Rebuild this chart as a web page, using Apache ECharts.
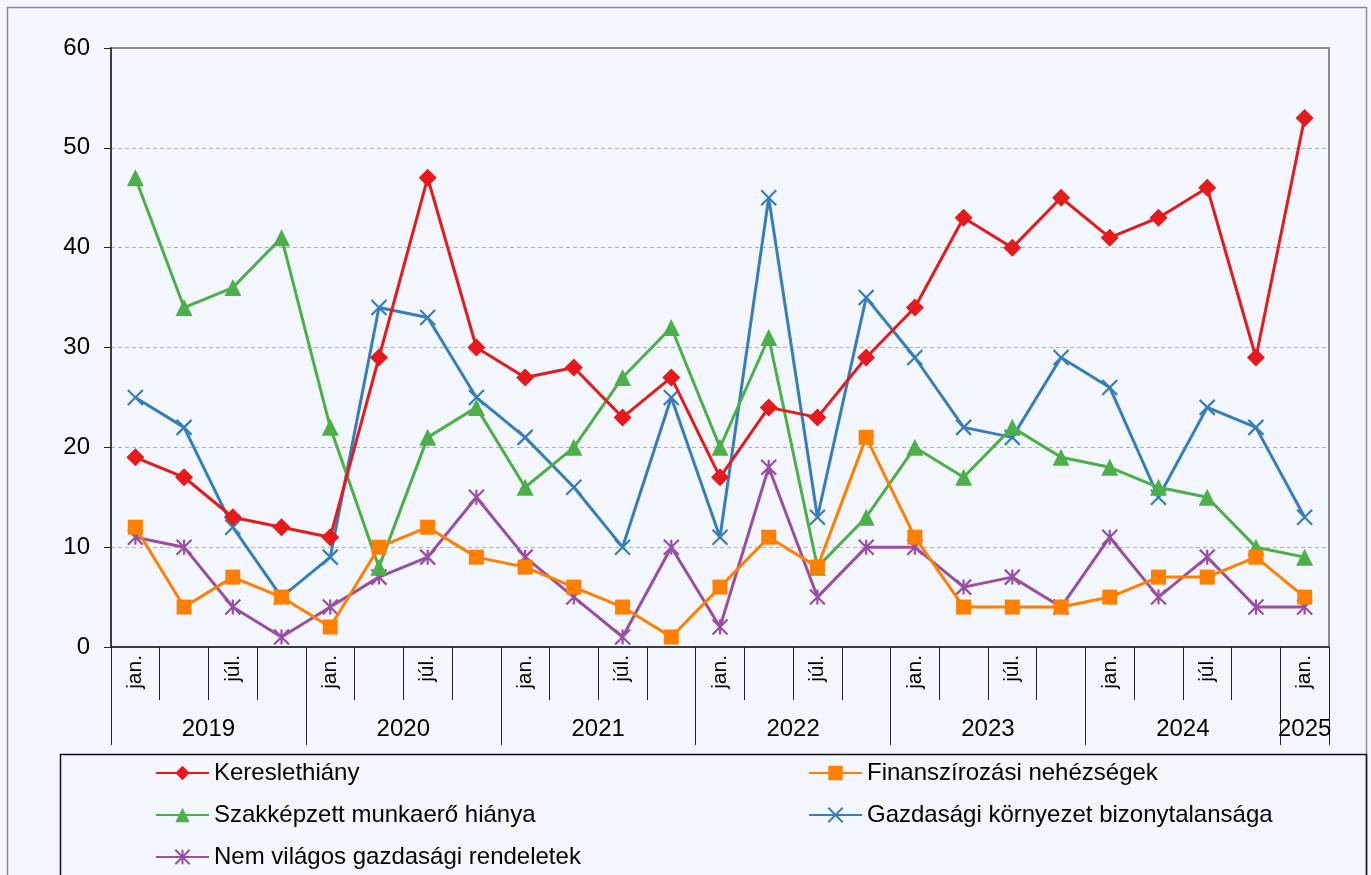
<!DOCTYPE html>
<html>
<head>
<meta charset="utf-8">
<script src="https://cdn.jsdelivr.net/npm/echarts@6/dist/echarts.min.js"></script>
<style>
html,body{margin:0;padding:0;background:#F3F6FD;}
#c{width:1371px;height:875px;}
</style>
</head>
<body>
<div id="c"></div>
<script>
// ---- data ----
const years = ['2019','2020','2021','2022','2023','2024','2025'];
const quartersPerYear = [4,4,4,4,4,4,1];
const quarterLabels = ['jan.','','júl.',''];
const seriesNames = ['Kereslethiány','Finanszírozási nehézségek','Szakképzett munkaerő hiánya','Gazdasági környezet bizonytalansága','Nem világos gazdasági rendeletek'];
const keresletHiany = [19,17,13,12,11,29,47,30,27,28,23,27,17,24,23,29,34,43,40,45,41,43,46,29,53];
const finanszirozas = [12,4,7,5,2,10,12,9,8,6,4,1,6,11,8,21,11,4,4,4,5,7,7,9,5];
const szakkepzett = [47,34,36,41,22,8,21,24,16,20,27,32,20,31,8,13,20,17,22,19,18,16,15,10,9];
const bizonytalansag = [25,22,12,5,9,34,33,25,21,16,10,25,11,45,13,35,29,22,21,29,26,15,24,22,13];
const rendeletek = [11,10,4,1,4,7,9,15,9,5,1,10,2,18,5,10,10,6,7,4,11,5,9,4,4];

// month categories
const monthCats = [];
quartersPerYear.forEach(n => { for (let q = 0; q < n; q++) monthCats.push(quarterLabels[q]); });
const N = monthCats.length;
// year axis on half-category positions (boundaryGap false, 2N+1 points)
const yearCats = new Array(2 * N + 1).fill('');
const yearBoundaries = [0];
let pos = 0;
years.forEach((y, i) => {
  const n = quartersPerYear[i];
  yearCats[2 * pos + n] = y;
  pos += n;
  yearBoundaries.push(2 * pos);
});

const colors = ['#E41A1C','#FF7F00','#4DAF4A','#377EB8','#984EA3'];
const symbols = ['diamond','rect','triangle','path://M0,0L10,10M10,0L0,10','path://M0,0L10,10M10,0L0,10M5,0L5,10'];
const symbolSizes = [18,15,17,15,15];
const values = [keresletHiany, finanszirozas, szakkepzett, bizonytalansag, rendeletek];

const chart = echarts.init(document.getElementById('c'));
const font = 'Liberation Sans, Arial, sans-serif';
const legendCommon = {
  orient: 'vertical', top: 759, padding: 0, height: 130, itemWidth: 53, itemHeight: 18, itemGap: 14,
  textStyle: { fontSize: 24, lineHeight: 28, color: '#000', fontFamily: font }
};
chart.setOption({
  animation: false,
  backgroundColor: '#F3F6FD',
  textStyle: { fontFamily: font },
  grid: { left: 111, right: 42, top: 48, bottom: 228, show: true, borderColor: '#8a8a8a', borderWidth: 2, backgroundColor: 'transparent' },
  xAxis: [
    {
      type: 'category', data: monthCats, position: 'bottom', boundaryGap: true,
      axisLine: { show: true, lineStyle: { color: '#222', width: 1.5 } },
      axisTick: { show: true, interval: 0, length: 53, lineStyle: { color: '#222', width: 1 } },
      axisLabel: { interval: 0, rotate: 90, margin: 8, fontSize: 21, color: '#000', fontFamily: font },
      splitLine: { show: false }
    },
    {
      type: 'category', data: yearCats, position: 'bottom', boundaryGap: false, offset: 0,
      axisLine: { show: false },
      axisTick: { show: true, length: 98, interval: (idx) => yearBoundaries.includes(idx), lineStyle: { color: '#222', width: 1 } },
      axisLabel: { interval: 0, margin: 70, fontSize: 24, color: '#000', fontFamily: font },
      splitLine: { show: false }
    }
  ],
  yAxis: {
    type: 'value', min: 0, max: 60, interval: 10,
    axisLine: { show: true, lineStyle: { color: '#222', width: 1.5 } },
    axisTick: { show: true, length: 7, inside: false, lineStyle: { color: '#222' } },
    axisLabel: { fontSize: 24, color: '#000', margin: 21, fontFamily: font },
    splitLine: { show: true, showMinLine: false, showMaxLine: false, lineStyle: { color: '#b0b0b0', type: [4, 3], width: 1 } }
  },
  legend: [
    Object.assign({ data: [seriesNames[0], seriesNames[2], seriesNames[4]], left: 155 }, legendCommon),
    Object.assign({ data: [seriesNames[1], seriesNames[3]], left: 808 }, legendCommon)
  ],
  graphic: [
    { type: 'rect', z: -1, shape: { x: 7.5, y: 7.5, width: 1359, height: 900 }, style: { fill: 'none', stroke: '#8a8a8a', lineWidth: 1.5 } },
    { type: 'rect', z: -1, shape: { x: 60.5, y: 754.5, width: 1306, height: 200 }, style: { fill: 'none', stroke: '#111', lineWidth: 1.5 } }
  ],
  series: seriesNames.map((name, i) => ({
    name, type: 'line', xAxisIndex: 0, data: values[i],
    symbol: symbols[i], symbolSize: symbolSizes[i], showAllSymbol: true,
    lineStyle: { color: colors[i], width: 3 },
    itemStyle: i >= 3 ? { color: colors[i], borderColor: colors[i], borderWidth: 2.2 } : { color: colors[i], borderWidth: 0 },
    emphasis: { disabled: true },
    z: 2 + (4 - i)
  }))
});
</script>
</body>
</html>
